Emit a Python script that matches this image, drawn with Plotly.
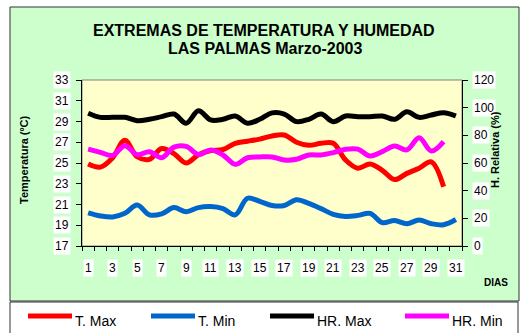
import plotly.graph_objects as go

# Daily extremes, Las Palmas, March 2003
dias = list(range(1, 32))
t_max = [24.9, 24.6, 25.5, 27.2, 25.6, 25.35, 26.4, 25.9, 25.0, 25.8,
         26.2, 26.3, 26.9, 27.1, 27.3, 27.6, 27.7, 27.0, 26.7, 26.9,
         26.9, 25.3, 24.5, 24.9, 24.3, 23.4, 24.0, 24.5, 25.1, 22.7, None]
t_min = [20.2, 19.9, 19.8, 20.15, 20.95, 20.0, 20.1, 20.7, 20.3, 20.7,
         20.8, 20.6, 20.0, 21.6, 21.3, 20.9, 20.9, 21.45, 21.1, 20.6,
         20.05, 19.85, 19.95, 20.15, 19.25, 19.45, 19.15, 19.5, 19.15, 19.05, 19.55]
hr_max = [96, 93, 93, 93, 90.6, 91.6, 93.5, 95.4, 88.7, 97.8,
          91.1, 91.6, 94, 88.7, 91.6, 96.2, 95.4, 89.9, 91.6, 95.4,
          89.9, 94, 93.5, 93.5, 94, 91.6, 97, 93, 94.7, 96.4, 94]
hr_min = [70, 67.7, 65.5, 72.5, 66, 68.2, 63.8, 71.5, 72, 66.2,
          69.4, 65.8, 59, 63.8, 64.4, 64.4, 62.2, 62.7, 65.8, 65.8,
          67.5, 69.9, 70, 65, 68.2, 72.3, 69.5, 78.3, 68.6, 75.4, None]

t_ticks = list(range(17, 34, 2))
hr_ticks = list(range(0, 121, 20))
dia_labels = list(range(1, 32, 2))
boundaries = [d - 0.5 for d in dias] + [31.5]

series_names = ["T. Max", "T. Min", "HR. Max", "HR. Min"]
series_values = [t_max, t_min, hr_max, hr_min]
series_colors = ["#FF0000", "#0066CC", "#000000", "#FF00FF"]
series_axes = ["y", "y", "y2", "y2"]

FONT = "Arial, Liberation Sans, sans-serif"

fig = go.Figure()
for name, vals, color, yax in zip(series_names, series_values, series_colors, series_axes):
    fig.add_trace(go.Scatter(
        x=dias, y=vals, name=name, mode="lines", yaxis=yax,
        line=dict(color=color, width=5, shape="spline", smoothing=1),
        connectgaps=False, showlegend=False,
    ))

# plot-area geometry in pixels (used to place panels and labels)
W, H = 525, 333
L, R, T, B = 82, 462, 80, 246


def px(x):
    return (x - L) / (R - L)


def py(y):
    return (B - y) / (B - T)


shapes = [
    # green chart panel
    dict(type="rect", xref="paper", yref="paper", x0=px(10), x1=px(519),
         y0=py(301), y1=py(7), fillcolor="#CCFFCC",
         line=dict(color="#333333", width=1), layer="below"),
    # legend panel
    dict(type="rect", xref="paper", yref="paper", x0=px(10), x1=px(518),
         y0=py(345), y1=py(302), fillcolor="#FFFFFF",
         line=dict(color="#333333", width=1), layer="below"),
    # plot area
    dict(type="rect", xref="paper", yref="paper", x0=0, x1=1, y0=0, y1=1,
         fillcolor="#FFFFCC", line=dict(color="#808080", width=1), layer="below"),
]

annotations = []
for v in t_ticks:
    annotations.append(dict(x=px(71), xref="paper", y=v, yref="y", text=str(v),
                            xanchor="right", yanchor="middle", showarrow=False,
                            bgcolor="#FFFFFF", borderpad=1,
                            font=dict(family=FONT, size=12, color="#000000")))
for v in hr_ticks:
    annotations.append(dict(x=px(472), xref="paper", y=v, yref="y2", text=str(v),
                            xanchor="left", yanchor="middle", showarrow=False,
                            bgcolor="#FFFFFF", borderpad=1,
                            font=dict(family=FONT, size=12, color="#000000")))
for d in dia_labels:
    annotations.append(dict(x=d, xref="x", y=py(268), yref="paper", text=str(d),
                            xanchor="center", yanchor="middle", showarrow=False,
                            bgcolor="#FFFFFF", borderpad=1,
                            font=dict(family=FONT, size=12, color="#000000")))

annotations += [
    dict(x=px(264), y=py(30), xref="paper", yref="paper", showarrow=False,
         text="<b>EXTREMAS DE TEMPERATURA Y HUMEDAD</b>",
         xanchor="center", yanchor="middle",
         font=dict(family=FONT, size=16, color="#000000")),
    dict(x=px(265), y=py(48), xref="paper", yref="paper", showarrow=False,
         text="<b>LAS PALMAS Marzo-2003</b>",
         xanchor="center", yanchor="middle",
         font=dict(family=FONT, size=16, color="#000000")),
    dict(x=px(24), y=py(160), xref="paper", yref="paper", showarrow=False,
         text="<b>Temperatura (ºC)</b>", textangle=-90,
         xanchor="center", yanchor="middle",
         font=dict(family=FONT, size=11, color="#000000")),
    dict(x=px(495), y=py(150), xref="paper", yref="paper", showarrow=False,
         text="<b>H. Relativa (%)</b>", textangle=-90,
         xanchor="center", yanchor="middle",
         font=dict(family=FONT, size=11, color="#000000")),
    dict(x=px(496), y=py(282), xref="paper", yref="paper", showarrow=False,
         text="<b>DIAS</b>", xanchor="center", yanchor="middle",
         font=dict(family=FONT, size=10, color="#000000")),
]

# legend: key line followed by the series name
legend_key_x = [28, 151, 270, 405]
for name, color, x0 in zip(series_names, series_colors, legend_key_x):
    shapes.append(dict(type="line", xref="paper", yref="paper",
                       x0=px(x0), x1=px(x0 + 44), y0=py(316), y1=py(316),
                       line=dict(color=color, width=5)))
    annotations.append(dict(x=px(x0 + 45), y=py(321), xref="paper", yref="paper",
                            text=name, showarrow=False, xanchor="left",
                            yanchor="middle",
                            font=dict(family=FONT, size=14, color="#000000")))

axis_common = dict(showgrid=False, zeroline=False, showticklabels=False,
                   tickcolor="#000000", tickwidth=1, fixedrange=True)

fig.update_layout(
    width=W, height=H,
    margin=dict(l=L, r=W - R, t=T, b=H - B, pad=0, autoexpand=False),
    paper_bgcolor="#FFFFFF",
    plot_bgcolor="rgba(0,0,0,0)",
    font=dict(family=FONT, size=12, color="#000000"),
    showlegend=False,
    xaxis=dict(range=[0.5, 31.5], tickmode="array", tickvals=boundaries,
               ticks="outside", ticklen=4, showline=True, linecolor="#000000",
               linewidth=1, **axis_common),
    xaxis2=dict(range=[0.5, 31.5], tickmode="array", tickvals=boundaries,
                ticks="inside", ticklen=4, overlaying="x", anchor="y", side="bottom",
                showline=False, **axis_common),
    yaxis=dict(range=[17, 33], tickmode="array", tickvals=t_ticks,
               ticks="outside", ticklen=5, showline=True, linecolor="#000000",
               linewidth=1, **axis_common),
    yaxis2=dict(range=[0, 120], tickmode="array", tickvals=hr_ticks,
                ticks="outside", ticklen=5, showline=True, linecolor="#000000",
                linewidth=1, overlaying="y", side="right", anchor="x", **axis_common),
    yaxis3=dict(range=[17, 33], tickmode="array", tickvals=t_ticks,
                ticks="inside", ticklen=4, overlaying="y", side="left", anchor="x",
                showline=False, **axis_common),
    yaxis4=dict(range=[0, 120], tickmode="array", tickvals=hr_ticks,
                ticks="inside", ticklen=4, overlaying="y", side="right", anchor="x",
                showline=False, **axis_common),
    shapes=shapes,
    annotations=annotations,
)

fig.write_html("out.html")
